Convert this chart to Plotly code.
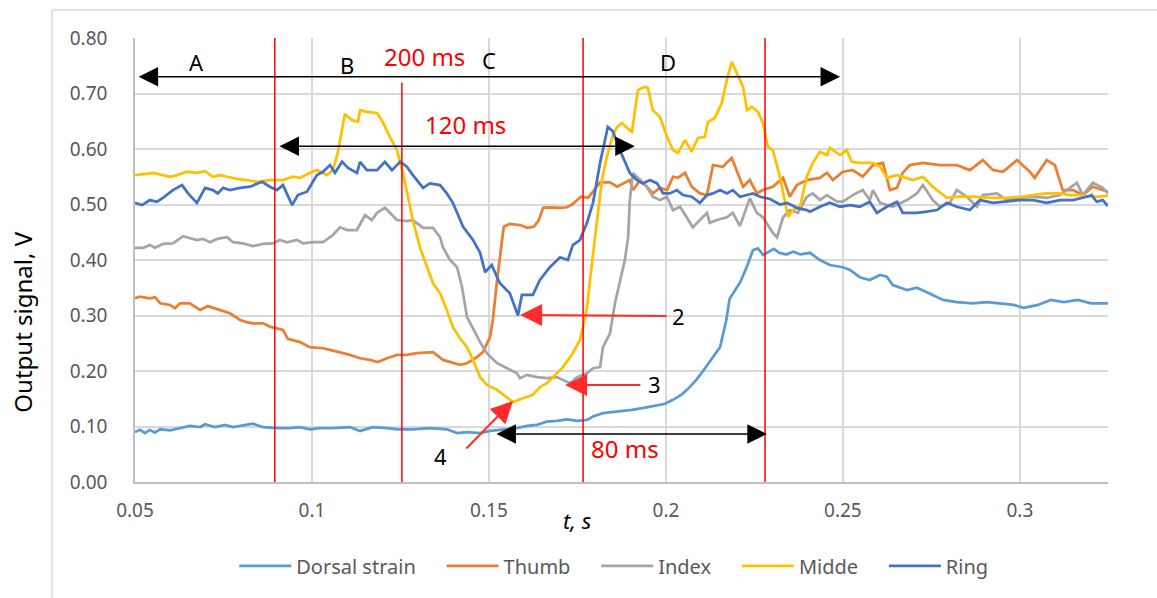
import plotly.graph_objects as go

# ---- time (s) / signal (V) samples per channel ----
T_DORSAL = [0.0500, 0.0514, 0.0528, 0.0542, 0.0556, 0.0571, 0.0599, 0.0627, 0.0655, 0.0684,
            0.0698, 0.0726, 0.0754, 0.0777, 0.0811, 0.0833, 0.0862, 0.0901, 0.0938, 0.0966,
            0.0994, 0.1022, 0.1059, 0.1107, 0.1136, 0.1172, 0.1212, 0.1240, 0.1285, 0.1333,
            0.1381, 0.1410, 0.1438, 0.1475, 0.1503, 0.1540, 0.1579, 0.1607, 0.1636, 0.1664,
            0.1692, 0.1720, 0.1749, 0.1777, 0.1794, 0.1822, 0.1856, 0.1904, 0.1949, 0.1997,
            0.2020, 0.2045, 0.2066, 0.2087, 0.2105, 0.2130, 0.2153, 0.2170, 0.2180, 0.2210,
            0.2230, 0.2246, 0.2260, 0.2275, 0.2290, 0.2305, 0.2320, 0.2340, 0.2360, 0.2380,
            0.2407, 0.2435, 0.2463, 0.2500, 0.2520, 0.2548, 0.2576, 0.2605, 0.2624, 0.2641,
            0.2681, 0.2709, 0.2737, 0.2766, 0.2783, 0.2822, 0.2867, 0.2907, 0.2945, 0.2983,
            0.3011, 0.3051, 0.3087, 0.3124, 0.3164, 0.3201, 0.3249]
V_DORSAL = [0.090, 0.094, 0.088, 0.094, 0.089, 0.095, 0.093, 0.097, 0.101, 0.099,
            0.104, 0.099, 0.103, 0.099, 0.103, 0.105, 0.099, 0.097, 0.097, 0.099,
            0.095, 0.097, 0.097, 0.099, 0.092, 0.099, 0.097, 0.095, 0.095, 0.097,
            0.095, 0.088, 0.090, 0.088, 0.092, 0.094, 0.097, 0.101, 0.103, 0.109,
            0.110, 0.113, 0.110, 0.112, 0.118, 0.124, 0.126, 0.130, 0.135, 0.141,
            0.148, 0.158, 0.170, 0.185, 0.200, 0.222, 0.243, 0.290, 0.330, 0.360,
            0.390, 0.418, 0.421, 0.409, 0.414, 0.420, 0.413, 0.410, 0.415, 0.410,
            0.413, 0.400, 0.391, 0.387, 0.382, 0.369, 0.364, 0.373, 0.370, 0.355,
            0.346, 0.350, 0.342, 0.333, 0.328, 0.324, 0.322, 0.324, 0.322, 0.319,
            0.314, 0.319, 0.328, 0.324, 0.328, 0.322, 0.322]

T_THUMB = [0.0500, 0.0514, 0.0542, 0.0557, 0.0571, 0.0599, 0.0613, 0.0627, 0.0655, 0.0684,
           0.0706, 0.0740, 0.0768, 0.0797, 0.0816, 0.0833, 0.0862, 0.0881, 0.0901, 0.0918,
           0.0932, 0.0966, 0.0994, 0.1031, 0.1051, 0.1079, 0.1107, 0.1136, 0.1164, 0.1186,
           0.1212, 0.1240, 0.1268, 0.1297, 0.1325, 0.1342, 0.1370, 0.1390, 0.1418, 0.1438,
           0.1466, 0.1483, 0.1503, 0.1511, 0.1523, 0.1542, 0.1559, 0.1588, 0.1608, 0.1627,
           0.1641, 0.1653, 0.1673, 0.1700, 0.1720, 0.1735, 0.1749, 0.1760, 0.1780, 0.1797,
           0.1814, 0.1842, 0.1862, 0.1879, 0.1898, 0.1907, 0.1927, 0.1946, 0.1963, 0.1983,
           0.2003, 0.2020, 0.2034, 0.2054, 0.2073, 0.2096, 0.2116, 0.2133, 0.2161, 0.2186,
           0.2200, 0.2218, 0.2237, 0.2257, 0.2274, 0.2302, 0.2331, 0.2350, 0.2370, 0.2398,
           0.2435, 0.2455, 0.2472, 0.2500, 0.2528, 0.2556, 0.2585, 0.2613, 0.2633, 0.2653,
           0.2669, 0.2689, 0.2726, 0.2774, 0.2822, 0.2859, 0.2895, 0.2924, 0.2952, 0.2992,
           0.3028, 0.3042, 0.3076, 0.3099, 0.3121, 0.3150, 0.3178, 0.3206, 0.3249]
V_THUMB = [0.331, 0.334, 0.331, 0.333, 0.322, 0.319, 0.313, 0.322, 0.322, 0.310,
           0.317, 0.310, 0.304, 0.292, 0.288, 0.286, 0.286, 0.280, 0.277, 0.274,
           0.258, 0.252, 0.243, 0.241, 0.238, 0.234, 0.229, 0.223, 0.220, 0.216,
           0.223, 0.229, 0.229, 0.232, 0.234, 0.234, 0.220, 0.216, 0.211, 0.214,
           0.225, 0.234, 0.261, 0.292, 0.364, 0.460, 0.465, 0.463, 0.458, 0.460,
           0.472, 0.494, 0.495, 0.494, 0.495, 0.500, 0.508, 0.514, 0.512, 0.526,
           0.540, 0.540, 0.532, 0.538, 0.544, 0.526, 0.544, 0.532, 0.520, 0.530,
           0.526, 0.550, 0.548, 0.557, 0.532, 0.520, 0.517, 0.571, 0.568, 0.584,
           0.562, 0.532, 0.544, 0.520, 0.526, 0.532, 0.548, 0.514, 0.535, 0.544,
           0.548, 0.557, 0.544, 0.559, 0.562, 0.550, 0.571, 0.575, 0.526, 0.530,
           0.557, 0.571, 0.575, 0.571, 0.571, 0.562, 0.580, 0.562, 0.559, 0.580,
           0.559, 0.548, 0.580, 0.571, 0.526, 0.526, 0.517, 0.532, 0.523]

T_INDEX = [0.0500, 0.0523, 0.0542, 0.0556, 0.0579, 0.0607, 0.0636, 0.0655, 0.0675, 0.0692,
           0.0712, 0.0732, 0.0760, 0.0777, 0.0805, 0.0833, 0.0862, 0.0890, 0.0910, 0.0929,
           0.0958, 0.0975, 0.1003, 0.1031, 0.1059, 0.1079, 0.1099, 0.1127, 0.1150, 0.1169,
           0.1184, 0.1206, 0.1220, 0.1240, 0.1268, 0.1285, 0.1314, 0.1342, 0.1362, 0.1370,
           0.1390, 0.1410, 0.1424, 0.1438, 0.1455, 0.1475, 0.1494, 0.1523, 0.1551, 0.1579,
           0.1588, 0.1607, 0.1636, 0.1664, 0.1692, 0.1709, 0.1729, 0.1749, 0.1777, 0.1794,
           0.1814, 0.1822, 0.1842, 0.1856, 0.1870, 0.1884, 0.1893, 0.1898, 0.1907, 0.1927,
           0.1946, 0.1963, 0.1983, 0.2003, 0.2020, 0.2040, 0.2059, 0.2076, 0.2096, 0.2116,
           0.2124, 0.2144, 0.2172, 0.2189, 0.2209, 0.2237, 0.2257, 0.2274, 0.2302, 0.2314,
           0.2331, 0.2350, 0.2373, 0.2398, 0.2415, 0.2435, 0.2455, 0.2483, 0.2500, 0.2528,
           0.2556, 0.2576, 0.2585, 0.2605, 0.2641, 0.2681, 0.2709, 0.2726, 0.2754, 0.2774,
           0.2802, 0.2822, 0.2850, 0.2879, 0.2895, 0.2935, 0.2963, 0.3000, 0.3037, 0.3076,
           0.3113, 0.3161, 0.3178, 0.3206, 0.3234, 0.3249]
V_INDEX = [0.422, 0.422, 0.427, 0.422, 0.429, 0.430, 0.443, 0.440, 0.436, 0.438,
           0.432, 0.438, 0.441, 0.432, 0.430, 0.425, 0.429, 0.430, 0.436, 0.432,
           0.436, 0.430, 0.432, 0.432, 0.445, 0.459, 0.454, 0.454, 0.481, 0.472,
           0.485, 0.494, 0.485, 0.472, 0.470, 0.472, 0.458, 0.458, 0.441, 0.423,
           0.400, 0.387, 0.351, 0.297, 0.277, 0.252, 0.232, 0.214, 0.205, 0.196,
           0.187, 0.193, 0.189, 0.187, 0.189, 0.184, 0.178, 0.189, 0.196, 0.205,
           0.207, 0.243, 0.268, 0.322, 0.364, 0.400, 0.440, 0.508, 0.557, 0.544,
           0.532, 0.514, 0.508, 0.514, 0.490, 0.496, 0.477, 0.459, 0.472, 0.485,
           0.467, 0.472, 0.477, 0.485, 0.461, 0.511, 0.485, 0.477, 0.449, 0.441,
           0.477, 0.490, 0.485, 0.514, 0.520, 0.508, 0.517, 0.505, 0.505, 0.517,
           0.526, 0.508, 0.526, 0.503, 0.496, 0.508, 0.520, 0.535, 0.508, 0.496,
           0.503, 0.526, 0.514, 0.496, 0.517, 0.520, 0.508, 0.512, 0.514, 0.512,
           0.517, 0.539, 0.517, 0.539, 0.530, 0.520]

T_MIDDLE = [0.0500, 0.0523, 0.0551, 0.0579, 0.0599, 0.0619, 0.0647, 0.0675, 0.0698, 0.0720,
            0.0740, 0.0760, 0.0788, 0.0816, 0.0845, 0.0881, 0.0918, 0.0946, 0.0966, 0.0994,
            0.1014, 0.1042, 0.1059, 0.1073, 0.1093, 0.1113, 0.1130, 0.1136, 0.1155, 0.1184,
            0.1201, 0.1220, 0.1240, 0.1257, 0.1268, 0.1285, 0.1305, 0.1325, 0.1342, 0.1362,
            0.1381, 0.1398, 0.1418, 0.1438, 0.1455, 0.1475, 0.1494, 0.1523, 0.1551, 0.1568,
            0.1596, 0.1624, 0.1644, 0.1664, 0.1681, 0.1709, 0.1737, 0.1757, 0.1766, 0.1777,
            0.1791, 0.1805, 0.1819, 0.1833, 0.1850, 0.1862, 0.1876, 0.1890, 0.1904, 0.1921,
            0.1941, 0.1949, 0.1963, 0.1983, 0.2003, 0.2020, 0.2034, 0.2054, 0.2073, 0.2090,
            0.2110, 0.2119, 0.2138, 0.2158, 0.2172, 0.2186, 0.2200, 0.2218, 0.2229, 0.2243,
            0.2260, 0.2274, 0.2288, 0.2302, 0.2322, 0.2345, 0.2359, 0.2379, 0.2398, 0.2415,
            0.2435, 0.2455, 0.2463, 0.2492, 0.2511, 0.2525, 0.2548, 0.2585, 0.2605, 0.2624,
            0.2653, 0.2681, 0.2698, 0.2726, 0.2754, 0.2794, 0.2831, 0.2867, 0.2915, 0.2963,
            0.3008, 0.3037, 0.3076, 0.3113, 0.3141, 0.3169, 0.3198, 0.3226, 0.3249]
V_MIDDLE = [0.553, 0.555, 0.557, 0.553, 0.550, 0.553, 0.559, 0.557, 0.560, 0.550,
            0.553, 0.550, 0.546, 0.544, 0.541, 0.544, 0.544, 0.550, 0.548, 0.557,
            0.562, 0.553, 0.562, 0.593, 0.663, 0.652, 0.649, 0.670, 0.667, 0.665,
            0.647, 0.622, 0.598, 0.557, 0.525, 0.472, 0.423, 0.387, 0.358, 0.340,
            0.310, 0.279, 0.259, 0.243, 0.220, 0.189, 0.175, 0.166, 0.153, 0.144,
            0.151, 0.157, 0.171, 0.178, 0.189, 0.207, 0.232, 0.256, 0.279, 0.315,
            0.394, 0.472, 0.544, 0.586, 0.625, 0.640, 0.647, 0.638, 0.631, 0.706,
            0.712, 0.710, 0.670, 0.658, 0.622, 0.598, 0.593, 0.616, 0.595, 0.620,
            0.622, 0.649, 0.656, 0.683, 0.724, 0.757, 0.737, 0.712, 0.670, 0.676,
            0.667, 0.647, 0.604, 0.598, 0.550, 0.478, 0.490, 0.496, 0.550, 0.575,
            0.595, 0.589, 0.602, 0.589, 0.598, 0.577, 0.575, 0.575, 0.568, 0.548,
            0.553, 0.548, 0.544, 0.550, 0.532, 0.512, 0.514, 0.514, 0.512, 0.512,
            0.514, 0.517, 0.520, 0.520, 0.517, 0.517, 0.514, 0.514, 0.516]

T_RING = [0.0500, 0.0520, 0.0542, 0.0562, 0.0579, 0.0607, 0.0633, 0.0650, 0.0675, 0.0698,
          0.0720, 0.0734, 0.0749, 0.0768, 0.0797, 0.0825, 0.0859, 0.0881, 0.0901, 0.0918,
          0.0944, 0.0960, 0.0986, 0.1014, 0.1031, 0.1051, 0.1065, 0.1085, 0.1102, 0.1127,
          0.1136, 0.1155, 0.1184, 0.1206, 0.1226, 0.1249, 0.1268, 0.1285, 0.1314, 0.1333,
          0.1362, 0.1381, 0.1398, 0.1427, 0.1455, 0.1475, 0.1489, 0.1508, 0.1523, 0.1531,
          0.1559, 0.1582, 0.1593, 0.1610, 0.1624, 0.1644, 0.1672, 0.1701, 0.1723, 0.1737,
          0.1757, 0.1777, 0.1794, 0.1814, 0.1836, 0.1850, 0.1870, 0.1898, 0.1918, 0.1935,
          0.1955, 0.1975, 0.1992, 0.2011, 0.2031, 0.2048, 0.2073, 0.2096, 0.2116, 0.2133,
          0.2153, 0.2172, 0.2189, 0.2209, 0.2229, 0.2246, 0.2266, 0.2294, 0.2322, 0.2342,
          0.2370, 0.2398, 0.2407, 0.2435, 0.2463, 0.2492, 0.2520, 0.2548, 0.2576, 0.2596,
          0.2624, 0.2653, 0.2669, 0.2709, 0.2737, 0.2766, 0.2794, 0.2822, 0.2859, 0.2887,
          0.2924, 0.2963, 0.3000, 0.3037, 0.3076, 0.3113, 0.3150, 0.3189, 0.3203, 0.3217,
          0.3234, 0.3249]
V_RING = [0.503, 0.499, 0.508, 0.505, 0.512, 0.526, 0.535, 0.520, 0.503, 0.530,
          0.526, 0.520, 0.530, 0.526, 0.530, 0.532, 0.541, 0.532, 0.526, 0.535,
          0.499, 0.517, 0.523, 0.553, 0.559, 0.571, 0.557, 0.577, 0.566, 0.557,
          0.577, 0.562, 0.562, 0.577, 0.562, 0.577, 0.568, 0.553, 0.530, 0.538,
          0.535, 0.520, 0.503, 0.460, 0.436, 0.413, 0.378, 0.391, 0.369, 0.358,
          0.340, 0.300, 0.337, 0.337, 0.337, 0.364, 0.387, 0.405, 0.400, 0.427,
          0.436, 0.467, 0.503, 0.575, 0.640, 0.632, 0.598, 0.557, 0.544, 0.538,
          0.544, 0.538, 0.520, 0.520, 0.526, 0.517, 0.514, 0.503, 0.517, 0.520,
          0.526, 0.520, 0.526, 0.514, 0.517, 0.520, 0.514, 0.510, 0.500, 0.503,
          0.494, 0.490, 0.487, 0.496, 0.503, 0.496, 0.499, 0.496, 0.505, 0.485,
          0.496, 0.505, 0.485, 0.485, 0.487, 0.490, 0.503, 0.496, 0.490, 0.508,
          0.503, 0.505, 0.508, 0.508, 0.503, 0.508, 0.508, 0.514, 0.517, 0.505,
          0.508, 0.497]

SERIES = [
    ("Dorsal strain", T_DORSAL, V_DORSAL, "#5B9BD5"),
    ("Thumb", T_THUMB, V_THUMB, "#ED7D31"),
    ("Index", T_INDEX, V_INDEX, "#A5A5A5"),
    ("Midde", T_MIDDLE, V_MIDDLE, "#FFC000"),
    ("Ring", T_RING, V_RING, "#4472C4"),
]

X_TICKS = [0.05, 0.1, 0.15, 0.2, 0.25, 0.3]
X_TICK_TEXT = ["0.05", "0.1", "0.15", "0.2", "0.25", "0.3"]
Y_TICKS = [0.0, 0.1, 0.2, 0.3, 0.4, 0.5, 0.6, 0.7, 0.8]

# phase boundaries (s) and the top of each marker line (V)
PHASE_LINES = [(0.0895, 0.80), (0.1254, 0.72), (0.1766, 0.805), (0.2280, 0.80)]

FONT = "Noto Sans"
GRAY_TXT = "#595959"
LEGEND_PAD = "\u00a0" * 4  # extra room between legend entries

fig = go.Figure()
for i, (name, t, v, col) in enumerate(SERIES):
    shown = name + (LEGEND_PAD if i < len(SERIES) - 1 else "")
    fig.add_trace(go.Scatter(x=t, y=v, mode="lines", name=shown,
                             line=dict(color=col, width=2.75)))

shapes = []
for xv, ytop in PHASE_LINES:
    shapes.append(dict(type="line", xref="x", yref="y", x0=xv, x1=xv, y0=-0.008, y1=ytop,
                       line=dict(color="#FF0000", width=1.5)))
# chart frame (top and left edges)
shapes.append(dict(type="line", xref="paper", yref="paper", x0=-0.0853, x1=1.2,
                   y0=1.063, y1=1.063, line=dict(color="#D9D9D9", width=1.5)))
shapes.append(dict(type="line", xref="paper", yref="paper", x0=-0.0853, x1=-0.0853,
                   y0=1.063, y1=-0.4, line=dict(color="#D9D9D9", width=1.5)))


def arrow(x0, y0, x1, y1, color, both=False, width=1.5, size=2.6):
    d = dict(x=x1, y=y1, ax=x0, ay=y0, xref="x", yref="y", axref="x", ayref="y",
             showarrow=True, text="", arrowhead=2, arrowsize=size, arrowwidth=width,
             arrowcolor=color, standoff=0, startstandoff=0)
    if both:
        d.update(arrowside="end+start", startarrowhead=2, startarrowsize=size)
    return d


def label(x, y, text, color="black", size=22):
    return dict(x=x, y=y, xref="x", yref="y", text=text, showarrow=False,
                xanchor="center", yanchor="middle",
                font=dict(family=FONT, size=size, color=color))


annotations = [
    arrow(0.0506, 0.730, 0.2492, 0.730, "black", both=True),
    arrow(0.0904, 0.605, 0.1912, 0.605, "black", both=True),
    arrow(0.1517, 0.0865, 0.2285, 0.0865, "black", both=True),
    arrow(0.2006, 0.299, 0.1588, 0.301, "#FF2B2B", width=2, size=2.2),
    arrow(0.1932, 0.175, 0.1715, 0.175, "#FF2B2B", width=2, size=2.2),
    arrow(0.1432, 0.0577, 0.1568, 0.146, "#FF2B2B", width=2, size=2.2),
    label(0.0675, 0.757, "A"),
    label(0.1099, 0.751, "B"),
    label(0.1500, 0.760, "C"),
    label(0.2006, 0.757, "D"),
    label(0.1317, 0.766, "200 ms", "#FF0000", 24),
    label(0.1435, 0.645, "120 ms", "#FF0000", 24),
    label(0.1885, 0.0595, "80 ms", "#FF0000", 24),
    label(0.2036, 0.299, "2"),
    label(0.1968, 0.177, "3"),
    label(0.1364, 0.046, "4"),
    dict(x=-0.1156, y=0.36, xref="paper", yref="paper", text="Output signal, V",
         textangle=-90, showarrow=False, xanchor="center", yanchor="middle",
         font=dict(family=FONT, size=24, color="black")),
    dict(x=0.455, y=-0.0856, xref="paper", yref="paper", text="<i>t, s</i>",
         showarrow=False, xanchor="center", yanchor="middle",
         font=dict(family=FONT, size=22, color="black")),
]

fig.update_layout(
    width=1157, height=598, autosize=False,
    margin=dict(l=135, r=49, t=38, b=116),
    paper_bgcolor="white", plot_bgcolor="white",
    font=dict(family=FONT, color=GRAY_TXT),
    showlegend=True,
    legend=dict(orientation="h", x=0.492, xanchor="center", y=-0.189, yanchor="middle",
                font=dict(family=FONT, size=20, color=GRAY_TXT), itemwidth=52,
                bgcolor="rgba(0,0,0,0)"),
    shapes=shapes,
    annotations=annotations,
)
fig.update_xaxes(range=[0.05, 0.3249], tickvals=X_TICKS, ticktext=X_TICK_TEXT,
                 showgrid=True, gridcolor="#D9D9D9", gridwidth=1.5,
                 showline=True, linecolor="#BFBFBF", linewidth=1.5,
                 zeroline=False, ticks="", ticklabelstandoff=10,
                 tickfont=dict(family=FONT, size=19, color=GRAY_TXT))
fig.update_yaxes(range=[0, 0.8], tickvals=Y_TICKS, tickformat=".2f",
                 showgrid=True, gridcolor="#D9D9D9", gridwidth=1.5,
                 showline=True, linecolor="#BFBFBF", linewidth=1.5,
                 zeroline=False, ticks="", ticklabelstandoff=22,
                 tickfont=dict(family=FONT, size=19, color=GRAY_TXT))

fig.write_html("out.html")
